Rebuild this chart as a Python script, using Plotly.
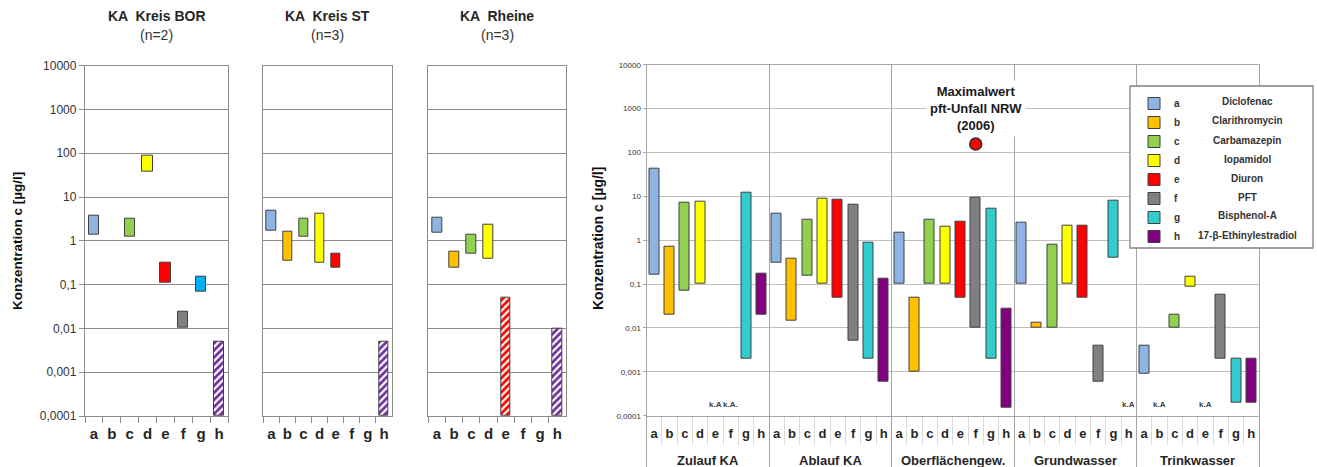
import math
import plotly.graph_objects as go

W, H = 1317, 467
FONT = "Liberation Sans, Arial, sans-serif"

# ---------------- data ----------------
letters = ["a", "b", "c", "d", "e", "f", "g", "h"]
substances = ["Diclofenac", "Clarithromycin", "Carbamazepin", "Iopamidol",
              "Diuron", "PFT", "Bisphenol-A", "17-\u03b2-Ethinylestradiol"]
colors = ["#8DB4E2", "#FFC000", "#92D050", "#FFFF00",
          "#FF0000", "#808080", "#33CCCC", "#800080"]
left_colors = ["#8DB4E2", "#FFC000", "#92D050", "#FFFF00",
               "#FF0000", "#808080", "#00B0F0", "#7030A0"]

ytick_vals = [1e-4, 1e-3, 1e-2, 1e-1, 1, 10, 100, 1000, 10000]
ytick_text = ["0,0001", "0,001", "0,01", "0,1", "1", "10", "100", "1000", "10000"]

# left panels (min / max per substance a..h; None = not shown)
panel_titles = ["KA  Kreis BOR", "KA  Kreis ST", "KA  Rheine"]
panel_n = ["(n=2)", "(n=3)", "(n=3)"]

bor_low = [1.4, None, 1.25, 38, 0.11, 0.0105, 0.068, 0.0001]
bor_high = [3.7, None, 3.2, 88, 0.32, 0.024, 0.15, 0.005]
bor_hatched = [False, False, False, False, False, False, False, True]

st_low = [1.75, 0.35, 1.25, 0.31, 0.25, None, None, 0.0001]
st_high = [4.8, 1.6, 3.2, 4.2, 0.5, None, None, 0.005]
st_hatched = [False, False, False, False, False, False, False, True]

rh_low = [1.5, 0.25, 0.5, 0.4, 0.0001, None, None, 0.0001]
rh_high = [3.3, 0.56, 1.4, 2.4, 0.05, None, None, 0.01]
rh_hatched = [False, False, False, False, True, False, False, True]

# right chart: groups and min/max per substance and group
groups = ["Zulauf KA", "Ablauf KA", "Oberfl\u00e4chengew.", "Grundwasser", "Trinkwasser"]

diclofenac_low = [0.16, 0.3, 0.1, 0.1, 0.0009]
diclofenac_high = [43, 4.1, 1.5, 2.5, 0.004]
clarithromycin_low = [0.02, 0.015, 0.001, 0.01, None]
clarithromycin_high = [0.72, 0.37, 0.05, 0.013, None]
carbamazepin_low = [0.07, 0.155, 0.1, 0.01, 0.01]
carbamazepin_high = [7.2, 3.0, 3.0, 0.8, 0.02]
iopamidol_low = [0.1, 0.1, 0.1, 0.1, 0.085]
iopamidol_high = [7.5, 8.7, 2.0, 2.1, 0.145]
diuron_low = [None, 0.05, 0.05, 0.05, None]
diuron_high = [None, 8.2, 2.6, 2.1, None]
pft_low = [None, 0.005, 0.01, 0.0006, 0.002]
pft_high = [None, 6.6, 9.5, 0.004, 0.058]
bisphenol_low = [0.002, 0.002, 0.002, 0.4, 0.0002]
bisphenol_high = [12, 0.88, 5.3, 8.0, 0.002]
ee2_low = [0.02, 0.0006, 0.00015, None, 0.0002]
ee2_high = [0.175, 0.13, 0.028, None, 0.002]

ka_notes = [("Zulauf KA", "e", "k.A"), ("Zulauf KA", "f", "k.A."),
            ("Grundwasser", "h", "k.A"), ("Trinkwasser", "b", "k.A"),
            ("Trinkwasser", "e", "k.A")]
ka_level = 10 ** -3.74

max_group, max_letter, max_value = "Oberfl\u00e4chengew.", "f", 155
max_text = "<b>Maximalwert<br>pft-Unfall NRW<br>(2006)</b>"
max_text_level = 1000

# ---------------- figure ----------------
left_low = [bor_low, st_low, rh_low]
left_high = [bor_high, st_high, rh_high]
left_hatch = [bor_hatched, st_hatched, rh_hatched]
right_low = [diclofenac_low, clarithromycin_low, carbamazepin_low, iopamidol_low,
             diuron_low, pft_low, bisphenol_low, ee2_low]
right_high = [diclofenac_high, clarithromycin_high, carbamazepin_high, iopamidol_high,
              diuron_high, pft_high, bisphenol_high, ee2_high]

EDGE = "#404040"
fig = go.Figure()

left_axes = [("x", "y"), ("x2", "y2"), ("x3", "y3")]
for p, (xa, ya) in enumerate(left_axes):
    xs, ys, bs, cols, shp = [], [], [], [], []
    for i, l in enumerate(letters):
        lo, hi = left_low[p][i], left_high[p][i]
        if lo is None:
            continue
        xs.append(l)
        bs.append(lo)
        ys.append(hi - lo)
        cols.append(left_colors[i])
        shp.append("/" if left_hatch[p][i] else "")
    fig.add_trace(go.Bar(
        x=xs, y=ys, base=bs, xaxis=xa, yaxis=ya, width=0.57,
        marker=dict(color=cols, line=dict(color=EDGE, width=1),
                    pattern=dict(shape=shp, fillmode="overlay", fgcolor="white",
                                 fgopacity=1, size=5, solidity=0.45)),
        showlegend=False, hoverinfo="skip"))

n_let = len(letters)
for i in range(n_let):
    xs, ys, bs = [], [], []
    for g in range(len(groups)):
        lo, hi = right_low[i][g], right_high[i][g]
        if lo is None:
            continue
        xs.append(g * n_let + i)
        bs.append(lo)
        ys.append(hi - lo)
    fig.add_trace(go.Bar(
        x=xs, y=ys, base=bs, xaxis="x4", yaxis="y4", width=0.65, name=letters[i],
        marker=dict(color=colors[i], line=dict(color=EDGE, width=1)),
        showlegend=True, hoverinfo="skip"))

max_x = groups.index(max_group) * n_let + letters.index(max_letter)
fig.add_trace(go.Scatter(
    x=[max_x], y=[max_value], xaxis="x5", yaxis="y4", mode="markers",
    marker=dict(size=12, color="#FF0000", line=dict(color="#303030", width=1.5)),
    showlegend=False, hoverinfo="skip"))

# ---------------- layout ----------------
def fx(px):
    return px / W


def fy(py):
    return 1 - py / H


left_dom_x = [(85, 228), (263.3, 392), (428.3, 566)]
left_dom_y = [fy(416), fy(65.7)]
right_dom_x = [fx(646.5), fx(1259)]
right_dom_y = [fy(415.7), fy(64.7)]

GRID_L = "#8c8c8c"
GRID_R = "#bfbfbf"
TXT = "#262626"

layout = dict(
    width=W, height=H,
    margin=dict(l=0, r=0, t=0, b=0, pad=0, autoexpand=False),
    paper_bgcolor="white", plot_bgcolor="white",
    font=dict(family=FONT, color=TXT),
    barmode="overlay", bargap=0,
)

for p in range(3):
    sx = "" if p == 0 else str(p + 1)
    layout["xaxis" + sx] = dict(
        domain=[fx(left_dom_x[p][0]), fx(left_dom_x[p][1])], anchor="y" + sx,
        type="category", categoryorder="array", categoryarray=letters,
        range=[-0.5, n_let - 0.5], tickmode="linear", tick0=0, dtick=1,
        tickson="boundaries", ticks="outside", tickangle=0,
        ticklen=6, tickcolor=GRID_L, tickwidth=1.3, ticklabelstandoff=4,
        tickfont=dict(size=15, weight="bold", color=TXT),
        showgrid=False, zeroline=False, showline=True, mirror=True,
        linecolor=GRID_L, linewidth=1.3, fixedrange=True, automargin=False)
    layout["yaxis" + sx] = dict(
        domain=left_dom_y, anchor="x" + sx, type="log", range=[-4, 4],
        tickmode="array", tickvals=ytick_vals, ticktext=ytick_text,
        ticks="outside" if p == 0 else "", ticklen=5, tickcolor=GRID_L,
        showticklabels=(p == 0), tickfont=dict(size=12, color="#333333"),
        showgrid=True, gridcolor=GRID_L, gridwidth=1.3, zeroline=False,
        showline=True, mirror=True, linecolor=GRID_L, linewidth=1.3,
        fixedrange=True, automargin=False)

n_pos = len(groups) * n_let
layout["xaxis4"] = dict(
    domain=right_dom_x, anchor="y4", range=[-0.5, n_pos - 0.5],
    tickmode="array", tickvals=list(range(n_pos)), ticktext=letters * len(groups),
    ticks="outside", ticklen=6, tickcolor="rgba(0,0,0,0)", tickangle=0,
    tickfont=dict(size=13, weight="bold", color=TXT),
    minor=dict(tickmode="array", tickvals=[k - 0.5 for k in range(1, n_pos)],
               ticks="outside", ticklen=28, tickcolor="#d9d9d9", tickwidth=1,
               showgrid=False),
    showgrid=False, zeroline=False, showline=True, mirror=True,
    linecolor="#a6a6a6", linewidth=1, fixedrange=True, automargin=False)
layout["xaxis5"] = dict(
    overlaying="x4", anchor="y4", range=[-0.5, n_pos - 0.5],
    tickmode="array", tickvals=[g * n_let - 0.5 for g in range(len(groups) + 1)],
    ticks="outside", ticklen=52, tickcolor="#a6a6a6", tickwidth=1,
    showticklabels=False, showgrid=True, gridcolor="#a6a6a6", gridwidth=1,
    zeroline=False, showline=False, fixedrange=True, automargin=False)
layout["yaxis4"] = dict(
    domain=right_dom_y, anchor="x4", type="log", range=[-4, 4],
    tickmode="array", tickvals=ytick_vals, ticktext=ytick_text,
    ticks="outside", ticklen=3, tickcolor="#a6a6a6",
    tickfont=dict(size=8, color="#333333"),
    showgrid=True, gridcolor=GRID_R, gridwidth=1.3, zeroline=False,
    showline=True, mirror=True, linecolor="#a6a6a6", linewidth=1,
    fixedrange=True, automargin=False)

layout["legend"] = dict(
    x=fx(1134), y=fy(89), xanchor="left", yanchor="top",
    bgcolor="rgba(0,0,0,0)", borderwidth=0, tracegroupgap=0,
    font=dict(size=10, weight="bold", color="#333333"), itemwidth=30,
    traceorder="normal")

annotations = []
for p in range(3):
    sx = "" if p == 0 else str(p + 1)
    annotations.append(dict(
        text="<b>" + panel_titles[p] + "</b>", xref="x" + sx + " domain", x=0.5,
        yref="paper", y=fy(16), showarrow=False, xanchor="center", yanchor="middle",
        font=dict(size=14, color=TXT)))
    annotations.append(dict(
        text=panel_n[p], xref="x" + sx + " domain", x=0.5,
        yref="paper", y=fy(35), showarrow=False, xanchor="center", yanchor="middle",
        font=dict(size=14, color="#333333")))

ytitle = "<b>Konzentration c [\u00b5g/l]</b>"
annotations.append(dict(text=ytitle, xref="paper", x=fx(17), yref="paper", y=fy(241),
                        xanchor="center", yanchor="middle",
                        textangle=-90, showarrow=False, font=dict(size=13.5, color="#111111")))
annotations.append(dict(text=ytitle, xref="paper", x=fx(598), yref="paper", y=fy(239),
                        xanchor="center", yanchor="middle",
                        textangle=-90, showarrow=False, font=dict(size=14, color="#111111")))

for g, name in enumerate(groups):
    annotations.append(dict(
        text="<b>" + name + "</b>", xref="x4", x=g * n_let + (n_let - 1) / 2,
        yref="paper", y=fy(460), showarrow=False, xanchor="center", yanchor="middle",
        font=dict(size=13, color=TXT)))

for grp, let, txt in ka_notes:
    annotations.append(dict(
        text="<b>" + txt + "</b>", xref="x4", x=groups.index(grp) * n_let + letters.index(let),
        yref="y4", y=math.log10(ka_level), showarrow=False, xanchor="center",
        yanchor="middle", font=dict(size=8, color="#404040")))

annotations.append(dict(
    text=max_text, xref="x4", x=max_x, yref="y4", y=math.log10(max_text_level),
    showarrow=False, xanchor="center", yanchor="middle", bgcolor="white",
    borderpad=3, font=dict(size=13, color="#1a1a1a")))

for i, name in enumerate(substances):
    annotations.append(dict(
        text="<b>" + name + "</b>", xref="paper", x=fx(1247), yref="paper",
        y=fy(102 + 19 * i), showarrow=False, xanchor="center", yanchor="middle",
        font=dict(size=10, color="#333333")))

layout["annotations"] = annotations
layout["shapes"] = [dict(type="rect", xref="paper", yref="paper",
                         x0=fx(1130), x1=fx(1313), y0=fy(248), y1=fy(86),
                         line=dict(color="#808080", width=1.3), fillcolor="white",
                         layer="above")]

fig.update_layout(**layout)
fig.write_html("out.html")
